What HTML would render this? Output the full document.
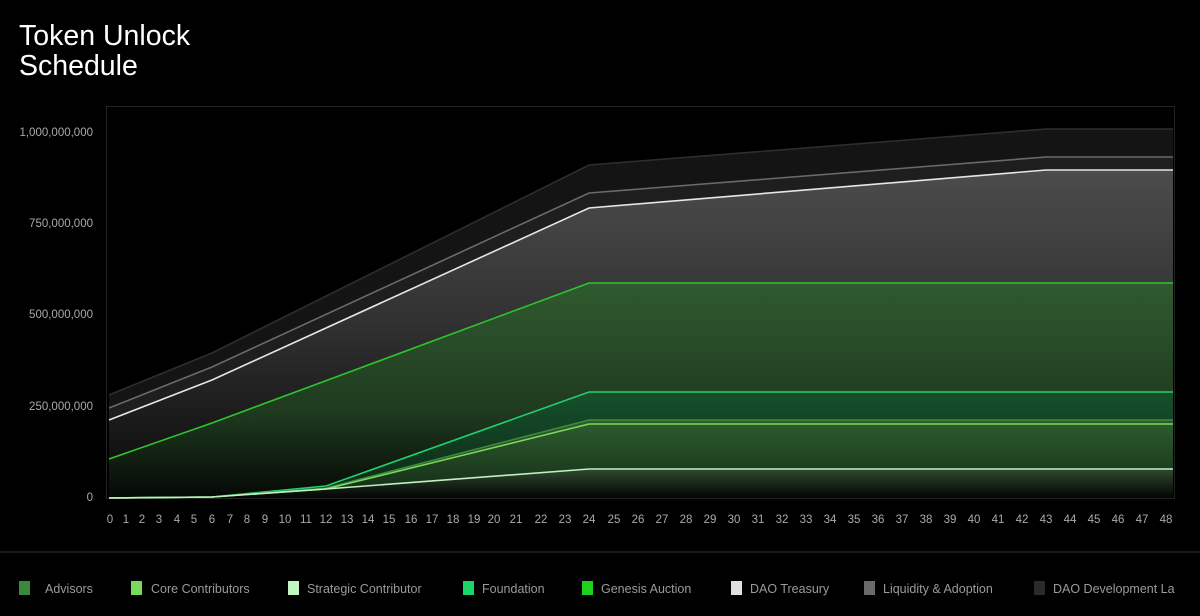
<!DOCTYPE html>
<html><head><meta charset="utf-8"><style>
body{margin:0;background:#000;width:1200px;height:616px;overflow:hidden;font-family:"Liberation Sans",sans-serif}
svg{position:absolute;left:0;top:0}
</style></head><body>
<svg width="1200" height="616" viewBox="0 0 1200 616">
<defs>
<linearGradient id="gT" x1="0" y1="0" x2="0" y2="1"><stop offset="0" stop-color="#4c4c4c"/><stop offset="0.5" stop-color="#333"/><stop offset="1" stop-color="#111"/></linearGradient>
<linearGradient id="gG" x1="0" y1="0" x2="0" y2="1"><stop offset="0" stop-color="#2f5a2f"/><stop offset="0.6" stop-color="#1f3a1f"/><stop offset="1" stop-color="#050805"/></linearGradient>
<linearGradient id="gF" x1="0" y1="0" x2="0" y2="1"><stop offset="0" stop-color="#17502c"/><stop offset="1" stop-color="#0c2a16"/></linearGradient>
<linearGradient id="gA" x1="0" y1="0" x2="0" y2="1"><stop offset="0" stop-color="#2d5e2d"/><stop offset="1" stop-color="#16301a"/></linearGradient>
<linearGradient id="gS" x1="0" y1="0" x2="0" y2="1"><stop offset="0" stop-color="#2e4a30"/><stop offset="1" stop-color="#030403"/></linearGradient>
</defs>
<text x="19" y="45" fill="#fff" font-size="28.5">Token Unlock</text>
<text x="19" y="75" fill="#fff" font-size="28.5">Schedule</text>
<rect x="106.5" y="106.5" width="1068" height="392" fill="none" stroke="#222"/>
<g fill="#aaa" font-size="11.5" text-anchor="end">
<text x="93" y="136">1,000,000,000</text><text x="93" y="227">750,000,000</text><text x="93" y="318">500,000,000</text><text x="93" y="410">250,000,000</text><text x="93" y="501">0</text>
</g>
<polygon fill="#141414" points="109,395 212,353 589,165 1046,129 1173,129 1173,157 1046,157 589,193 212,367 109,408"/>
<polygon fill="#1e1e1e" points="109,408 212,367 589,193 1046,157 1173,157 1173,170 1046,170 589,208 212,380 109,420"/>
<polygon fill="url(#gT)" points="109,420 212,380 589,208 1046,170 1173,170 1173,283 589,283 212,423 109,459"/>
<polygon fill="url(#gG)" points="109,459 212,423 589,283 1173,283 1173,392 589,392 326,486 212,497 109,498"/>
<polygon fill="url(#gF)" points="326,486 589,392 1173,392 1173,420 589,420 326,488"/>
<polygon fill="url(#gA)" points="326,488 589,420 1173,420 1173,469 589,469 326,489"/>
<polygon fill="url(#gS)" points="109,498 212,497 326,489 589,469 1173,469 1173,498 109,498"/>
<g fill="none" stroke-width="1.6">
<polyline stroke="#2e2e2e" points="109,395 212,353 589,165 1046,129 1173,129"/>
<polyline stroke="#6a6a6a" points="109,408 212,367 589,193 1046,157 1173,157"/>
<polyline stroke="#e6e6e6" points="109,420 212,380 589,208 1046,170 1173,170"/>
<polyline stroke="#2fc42f" points="109,459 212,423 589,283 1173,283"/>
<polyline stroke="#22d070" points="109,498 212,497 326,486 589,392 1173,392"/>
<polyline stroke="#3f8a3f" points="109,498 212,497 326,488 589,420 1173,420"/>
<polyline stroke="#7ad85a" points="109,498 212,497 326,489 589,424 1173,424"/>
<polyline stroke="#c0f0c0" points="109,498 212,497 326,489 589,469 1173,469"/>
</g>
<g fill="#aaa" font-size="11.5" text-anchor="middle">
<text x="110" y="523">0</text><text x="126" y="523">1</text><text x="142" y="523">2</text><text x="159" y="523">3</text><text x="177" y="523">4</text><text x="194" y="523">5</text><text x="212" y="523">6</text><text x="230" y="523">7</text><text x="247" y="523">8</text><text x="265" y="523">9</text><text x="285" y="523">10</text><text x="306" y="523">11</text><text x="326" y="523">12</text><text x="347" y="523">13</text><text x="368" y="523">14</text><text x="389" y="523">15</text><text x="411" y="523">16</text><text x="432" y="523">17</text><text x="453" y="523">18</text><text x="474" y="523">19</text><text x="494" y="523">20</text><text x="516" y="523">21</text><text x="541" y="523">22</text><text x="565" y="523">23</text><text x="589" y="523">24</text>
<text x="614" y="523">25</text><text x="638" y="523">26</text><text x="662" y="523">27</text><text x="686" y="523">28</text><text x="710" y="523">29</text><text x="734" y="523">30</text><text x="758" y="523">31</text><text x="782" y="523">32</text><text x="806" y="523">33</text><text x="830" y="523">34</text><text x="854" y="523">35</text><text x="878" y="523">36</text><text x="902" y="523">37</text><text x="926" y="523">38</text><text x="950" y="523">39</text><text x="974" y="523">40</text><text x="998" y="523">41</text><text x="1022" y="523">42</text><text x="1046" y="523">43</text><text x="1070" y="523">44</text><text x="1094" y="523">45</text><text x="1118" y="523">46</text><text x="1142" y="523">47</text><text x="1166" y="523">48</text>
</g>
<line x1="0" y1="552" x2="1200" y2="552" stroke="#222" stroke-width="1.5"/>
<g font-size="12.5" fill="#9a9a9a">
<rect x="19" y="581" width="11" height="14" fill="#3a8a3a"/><text x="45" y="593">Advisors</text>
<rect x="131" y="581" width="11" height="14" fill="#7ad85a"/><text x="151" y="593">Core Contributors</text>
<rect x="288" y="581" width="11" height="14" fill="#c0f7c0"/><text x="307" y="593">Strategic Contributor</text>
<rect x="463" y="581" width="11" height="14" fill="#19d56a"/><text x="482" y="593">Foundation</text>
<rect x="582" y="581" width="11" height="14" fill="#1fd01f"/><text x="601" y="593">Genesis Auction</text>
<rect x="731" y="581" width="11" height="14" fill="#e0e0e0"/><text x="750" y="593">DAO Treasury</text>
<rect x="864" y="581" width="11" height="14" fill="#6a6a6a"/><text x="883" y="593">Liquidity &amp; Adoption</text>
<rect x="1034" y="581" width="11" height="14" fill="#2a2a2a"/><text x="1053" y="593">DAO Development La</text>
</g>
</svg>
</body></html>
